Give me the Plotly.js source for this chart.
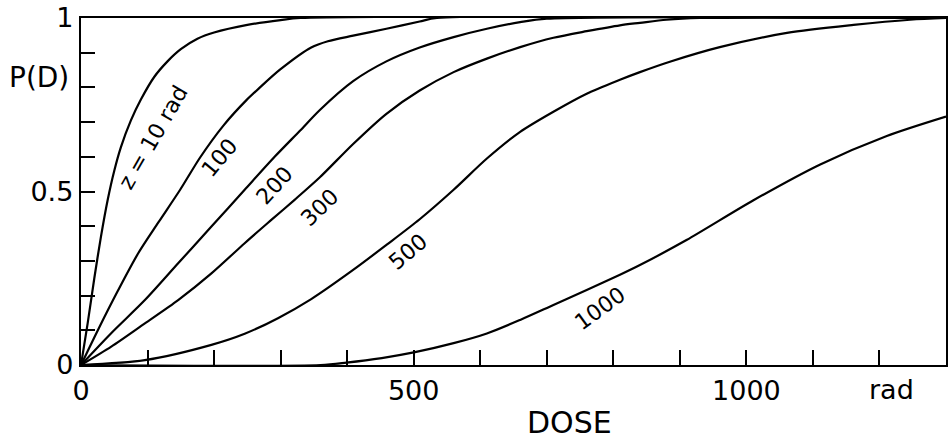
<!DOCTYPE html>
<html>
<head>
<meta charset="utf-8">
<script src="https://cdn.plot.ly/plotly-3.0.1.min.js"></script>
<style>html,body{margin:0;padding:0;background:#fff;}#chart{width:948px;height:443px;}</style>
</head>
<body>
<div id="chart"></div>
<script>
// Dose (rad) and probability P(D), one pair of arrays per curve
const dose_z10  = [0, 10, 20, 30, 40, 50, 60, 75, 90, 110, 130, 150, 175, 200, 250, 300, 330, 1300];
const p_z10     = [0, 0.12, 0.25, 0.37, 0.475, 0.56, 0.628, 0.705, 0.765, 0.83, 0.875, 0.91, 0.94, 0.958, 0.98, 0.994, 1, 1];

const dose_z100 = [0, 25.5, 56, 86, 116, 149, 179, 214, 249, 269, 299, 346, 371, 409, 459, 509, 535, 1300];
const p_z100    = [0, 0.101, 0.216, 0.322, 0.41, 0.505, 0.598, 0.69, 0.764, 0.80, 0.851, 0.915, 0.933, 0.949, 0.969, 0.99, 1, 1];

const dose_z200 = [0, 45, 96, 146, 196, 246, 291, 329, 359, 409, 459, 509, 560, 610, 660, 700, 1300];
const p_z200    = [0, 0.091, 0.187, 0.293, 0.399, 0.505, 0.6, 0.675, 0.735, 0.818, 0.875, 0.915, 0.945, 0.969, 0.988, 0.998, 1];

const dose_z300 = [0, 45.5, 96, 146, 196, 246, 286, 321, 359, 409, 459, 509, 560, 610, 660, 710, 760, 810, 840, 880, 930, 1300];
const p_z300    = [0, 0.053, 0.12, 0.187, 0.264, 0.351, 0.418, 0.476, 0.541, 0.637, 0.724, 0.791, 0.844, 0.883, 0.916, 0.943, 0.962, 0.979, 0.986, 0.995, 1, 1];

const dose_z500 = [0, 96, 196, 246, 296, 346, 409, 459, 509, 560, 610, 660, 710, 760, 810, 840, 885, 960, 1061, 1161, 1246, 1300];
const p_z500    = [0, 0.014, 0.058, 0.09, 0.135, 0.19, 0.274, 0.346, 0.42, 0.505, 0.595, 0.672, 0.73, 0.782, 0.822, 0.844, 0.874, 0.916, 0.957, 0.98, 0.995, 1.0];

const dose_z1000 = [0, 360, 399, 452, 502, 560, 610, 660, 710, 760, 810, 840, 910, 1010, 1111, 1211, 1300];
const p_z1000    = [0, 0, 0.007, 0.02, 0.037, 0.063, 0.091, 0.13, 0.173, 0.216, 0.26, 0.288, 0.36, 0.474, 0.578, 0.66, 0.716];

const curveLabels = ["z = 10 rad", "100", "200", "300", "500", "1000"];
const labelDose   = [108, 208, 291, 359, 492, 780];
const labelP      = [0.657, 0.599, 0.516, 0.453, 0.327, 0.163];
const labelAngle  = [-60, -50, -48, -44, -40, -36];

const xTickVals = [0, 100, 200, 300, 400, 500, 600, 700, 800, 900, 1000, 1100, 1200];
const xTickText = ["0", "", "", "", "", "500", "", "", "", "", "1000", "", ""];
const yTickVals = [0, 0.1, 0.2, 0.3, 0.4, 0.5, 0.6, 0.7, 0.8, 0.9, 1];
const yTickText = ["0", "", "", "", "", "0.5", "", "", "", "", "1"];

const FONT = "DejaVu Sans, sans-serif";
const series = [
  [dose_z10, p_z10], [dose_z100, p_z100], [dose_z200, p_z200],
  [dose_z300, p_z300], [dose_z500, p_z500], [dose_z1000, p_z1000]
];
const traces = series.map(s => ({
  x: s[0], y: s[1], mode: "lines", type: "scatter",
  line: {color: "#000", width: 2.2, shape: "spline", smoothing: 0.8},
  hoverinfo: "skip", showlegend: false, cliponaxis: true
}));

const annotations = curveLabels.map((t, i) => ({
  x: labelDose[i], y: labelP[i], xref: "x", yref: "y", text: t,
  xanchor: "center", yanchor: "middle",
  showarrow: false, textangle: labelAngle[i],
  font: {family: FONT, size: 22, color: "#000"}
}));
annotations.push({x: 1218, y: -0.072, xref: "x", yref: "paper", text: "rad", showarrow: false,
  xanchor: "center", yanchor: "middle",
  font: {family: FONT, size: 27, color: "#000"}});
annotations.push({x: 0.565, y: -0.167, xref: "paper", yref: "paper", text: "DOSE", showarrow: false,
  xanchor: "center", yanchor: "middle",
  font: {family: FONT, size: 30, color: "#000"}});
annotations.push({x: -0.0485, y: 0.828, xref: "paper", yref: "paper", text: "P(D)", showarrow: false,
  xanchor: "center", yanchor: "middle",
  font: {family: FONT, size: 28, color: "#000"}});

const layout = {
  width: 948, height: 443,
  margin: {l: 81, r: 2, t: 18, b: 78, pad: 0},
  paper_bgcolor: "#fff", plot_bgcolor: "#fff",
  xaxis: {
    range: [0, 1300], tickmode: "array", tickvals: xTickVals, ticktext: xTickText,
    ticks: "inside", ticklen: 15, tickwidth: 2, tickcolor: "#000",
    showline: true, linecolor: "#000", linewidth: 2.2, mirror: true,
    showgrid: false, zeroline: false,
    tickfont: {family: FONT, size: 27, color: "#000"}
  },
  yaxis: {
    range: [0, 1], tickmode: "array", tickvals: yTickVals, ticktext: yTickText,
    ticks: "inside", ticklen: 14, tickwidth: 2, tickcolor: "#000",
    showline: true, linecolor: "#000", linewidth: 2.2, mirror: true,
    showgrid: false, zeroline: false,
    tickfont: {family: FONT, size: 27, color: "#000"}
  },
  annotations: annotations
};

Plotly.newPlot("chart", traces, layout, {staticPlot: true, displayModeBar: false});
</script>
</body>
</html>
